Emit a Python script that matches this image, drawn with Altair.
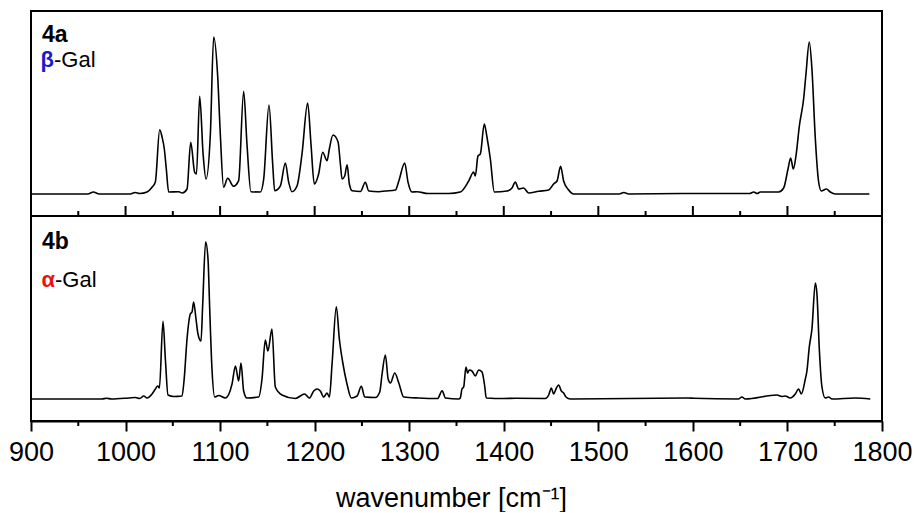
import altair as alt
import pandas as pd

# ---- spectrum 4a (beta-Gal) ----
x_4a = [900, 960, 966, 972, 1005, 1010, 1015, 1022.7, 1028, 1031.5, 1036.1, 1038.6, 1041, 1043.1, 1045.6,
        1056.2, 1060, 1065, 1068.9, 1073.1, 1075, 1078.4, 1082, 1085.1, 1089.7, 1093.2, 1097.4, 1100.2,
        1103.7, 1108, 1114.3, 1119.6, 1124.9, 1128.4, 1132.6, 1142.5, 1146.1, 1151.7, 1155.6, 1157.7,
        1163.7, 1169, 1172.5, 1176, 1181.3, 1186.6, 1192.6, 1196.1, 1199.6, 1204.2, 1208.5, 1213.1,
        1215.5, 1219.4, 1224.7, 1227.2, 1229, 1231.8, 1234.3, 1236.7, 1239.6, 1248.4, 1253.6, 1257.2,
        1267.8, 1274.8, 1285.4, 1289, 1295.2, 1298.7, 1302.9, 1308.2, 1320, 1341.7, 1354, 1362.9,
        1368.1, 1369.9, 1372.7, 1375.2, 1379.4, 1382.2, 1385.8, 1390, 1403.4, 1408.7, 1412.2, 1415.7,
        1421, 1426.3, 1436.9, 1447.5, 1452.7, 1456.3, 1460.1, 1463.3, 1468.6, 1473.9, 1522, 1527,
        1532, 1588.5, 1660, 1664.3, 1668, 1671.3, 1690.7, 1696, 1700.6, 1703.4, 1706.2, 1709, 1712.6,
        1717.1, 1719.6, 1723.1, 1725.9, 1729.5, 1733, 1735.8, 1741.1, 1745.3, 1750.6, 1786.6]
y_4a = [0, 0, 2, 0, 0, 1.5, 0.5, 2, 6.7, 12, 64.3, 57, 45, 25, 2,
        2.3, 1, 5, 51.7, 21.7, 20, 97.7, 40, 15, 60, 157, 118.3, 60,
        6.7, 15.7, 7.7, 13.3, 102.7, 50, 2.3, 2, 15, 89, 30, 3.3,
        8, 31, 12, 2.3, 8, 40, 91, 50, 10, 20, 41.7, 33.3,
        45, 59, 52.3, 30, 15, 18, 29.3, 10, 3.3, 2.5, 11.7, 3,
        2.3, 3, 4, 13, 31, 12, 2, 2.3, 0.5, 0.5, 2, 13,
        22, 18, 38, 40, 70, 57, 35, 2, 3, 6, 12, 5,
        6, 1, 2.7, 4, 10, 13, 27.7, 13, 4, 0, 0, 1.5,
        0, 0.5, 0.5, 2, 0.5, 2, 2, 6, 25, 36, 25, 38, 68,
        95, 120, 152, 125, 55, 12, 3, 5, 2, 0, 0]

# ---- spectrum 4b (alpha-Gal) ----
x_4b = [900, 975, 980, 985, 1003.3, 1010.4, 1015, 1019.2, 1022.7, 1028, 1031.5, 1034, 1035.8, 1039.6,
        1042.1, 1044.9, 1050.9, 1059.7, 1062, 1065, 1068.5, 1070.3, 1072, 1074.5, 1076.6, 1079.8,
        1081.6, 1084.7, 1087.2, 1089, 1091.4, 1094.3, 1098.5, 1105.6, 1112.6, 1116.2, 1119.6, 1122.1,
        1124.9, 1128.4, 1140.8, 1144.3, 1147.8, 1150.6, 1154.8, 1158.4, 1165.4, 1179.5, 1189.4, 1194.4,
        1199, 1202.5, 1206, 1209.6, 1213.1, 1215.6, 1218.4, 1222.9, 1226.1, 1229.6, 1234.2, 1238.8,
        1244.8, 1249.4, 1252.9, 1264.2, 1268.8, 1271.3, 1274.8, 1277.7, 1280.1, 1284.7, 1289, 1294.2,
        1310.1, 1330, 1334.8, 1338.3, 1352.4, 1354, 1355.8, 1357.6, 1360, 1361.8, 1363.6, 1366.4,
        1369.9, 1373.4, 1377, 1379.8, 1381.5, 1399.9, 1412.2, 1443.9, 1447.5, 1450.3, 1452.7, 1455.2,
        1458, 1460.9, 1463.3, 1465.8, 1470.4, 1595.5, 1600.8, 1648, 1651.9, 1655.4, 1688.9, 1694.2,
        1697.7, 1703, 1708.3, 1711.8, 1714.7, 1718.9, 1720.6, 1723.1, 1725.9, 1729.5, 1731.2, 1733.7,
        1736.5, 1740, 1743.6, 1747.1, 1771.8, 1787.6]
y_4b = [0, 0, 0.8, 0, 1, 1.5, 0.5, 3, 1, 5, 10, 13, 11, 77.7,
        40, 4, 2.5, 3, 20, 60, 85, 87, 97, 80, 65, 58,
        95, 157.3, 140, 90, 30, 2, 3.5, 1, 15, 33, 18, 36,
        8, 1, 2, 20, 59, 48, 70, 12, 4, 0.5, 5, 1,
        8, 10, 8, 2, 6, 2, 35, 92.3, 60, 37, 15, 1,
        3, 12.7, 2, 1.5, 7, 25, 44, 20, 16, 26, 16, 2,
        1, 0.5, 8.3, 1, 0, 1, 10, 12, 32, 26, 29, 28,
        23, 29, 27, 13, 1, 0.5, 0.7, 0.5, 4, 11, 5, 10,
        14, 8, 6, 2, 0, 1, 0.7, 0, 2, 0, 4, 2.5,
        3, 1, 5, 10, 5, 20, 28, 52, 70, 116, 105, 50,
        12, 1, 2, 0, 1, 0]

major_ticks = [900, 1000, 1100, 1200, 1300, 1400, 1500, 1600, 1700, 1800]
minor_ticks = [950, 1050, 1150, 1250, 1350, 1450, 1550, 1650, 1750]

W, H = 851, 205
FONT = "Liberation Sans"

xscale = alt.Scale(domain=[900, 1800], nice=False, zero=False)
yscale = alt.Scale(domain=[-22, 183], nice=False, zero=False)

df_a = pd.DataFrame({"wn": x_4a, "I": y_4a})
df_b = pd.DataFrame({"wn": x_4b, "I": y_4b})
df_maj = pd.DataFrame({"wn": major_ticks})
df_min = pd.DataFrame({"wn": minor_ticks})

bottom_axis = alt.Axis(
    values=major_ticks, format="d", tickSize=10, tickWidth=2, tickColor="black",
    domainWidth=2, domainColor="black", grid=False,
    labelFont=FONT, labelFontSize=27, labelColor="black", labelPadding=8,
    labelFlush=False, labelOverlap=False,
    title="wavenumber [cm⁻¹]", titleFont=FONT, titleFontSize=27,
    titleFontWeight="normal", titleColor="black",
    titleX=420, titleY=85, titleAlign="center", titleBaseline="alphabetic",
)


def spectrum(df, xaxis):
    return alt.Chart(df).mark_line(color="black", strokeWidth=1.6, interpolate="monotone").encode(
        x=alt.X("wn:Q", scale=xscale, axis=xaxis),
        y=alt.Y("I:Q", scale=yscale, axis=None),
    )


def rules(df, y1, y2, xaxis):
    return alt.Chart(df).mark_rule(color="black", strokeWidth=2).encode(
        x=alt.X("wn:Q", scale=xscale, axis=xaxis),
        y=alt.value(y1), y2=alt.value(y2),
    )


def label(text, x, y, color="black", bold=False, align="left", size=20):
    return alt.Chart(pd.DataFrame({"t": [text]})).mark_text(
        align=align, baseline="alphabetic", font=FONT, fontSize=size,
        fontWeight="bold" if bold else "normal", color=color,
    ).encode(x=alt.value(x), y=alt.value(y), text="t:N")


top = alt.layer(
    spectrum(df_a, None),
    rules(df_maj, H - 10, H, None),
    rules(df_min, H - 5, H, None),
    label("4a", 11, 31, bold=True, size=23),
    label("β", 23, 56, color="#1a1acc", bold=True, align="right", size=22),
    label("-Gal", 23, 56, size=22),
).properties(width=W, height=H)

bottom = alt.layer(
    spectrum(df_b, bottom_axis),
    rules(df_min, H, H + 5, bottom_axis),
    label("4b", 11, 33, bold=True, size=23),
    label("α", 24, 71, color="#ee1111", bold=True, align="right", size=22),
    label("-Gal", 24, 71, size=22),
).properties(width=W, height=H)

chart = alt.vconcat(top, bottom, spacing=0, bounds="flush").properties(
    padding={"left": 7, "top": 10, "right": 0, "bottom": 0}
).configure_view(stroke="black", strokeWidth=2)

chart.save("out.html", embed_options={"renderer": "svg", "actions": False})
